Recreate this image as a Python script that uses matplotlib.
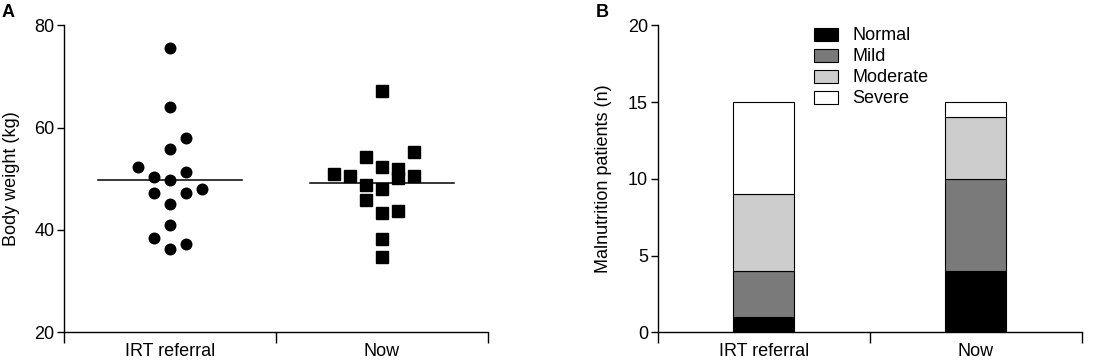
import numpy as np
import matplotlib.pyplot as plt
from matplotlib.patches import Patch

plt.rcParams['font.family'] = ['Liberation Sans', 'DejaVu Sans']
plt.rcParams['font.size'] = 13

groups = ['IRT referral', 'Now']

# panel A: body weight (kg), with jitter column index for each point
irt_w = [75.6, 64.0, 57.9, 55.8, 52.3, 51.4, 50.4, 49.7, 47.3, 47.3, 47.95, 45.1, 40.9, 38.4, 37.2, 36.2]
irt_col = [0, 0, 1, 0, -2, 1, -1, 0, -1, 1, 2, 0, 0, -1, 1, 0]
now_w = [67.1, 55.2, 54.2, 52.25, 52.0, 50.2, 51.0, 50.5, 50.6, 48.7, 48.1, 45.8, 43.65, 43.26, 38.2, 34.8]
now_col = [0, 2, -1, 0, 1, 1, -3, -2, 2, -1, 0, -1, 1, 0, 0, 0]

# panel B: malnutrition grades (n)
grades = ['Normal', 'Mild', 'Moderate', 'Severe']
counts = {'Normal': [1, 4], 'Mild': [3, 6], 'Moderate': [5, 4], 'Severe': [6, 1]}
colors = ['#000000', '#7a7a7a', '#cdcdcd', '#ffffff']

fig = plt.figure(figsize=(11.19, 3.6), dpi=100)
axA = fig.add_axes([0.0572, 0.0769, 0.3788, 0.8528])
axB = fig.add_axes([0.5877, 0.0769, 0.3790, 0.8528])

step = 0.076
for i, (w, c, m, ms) in enumerate([(irt_w, irt_col, 'o', 7.6), (now_w, now_col, 's', 8.0)]):
    x = i + np.array(c) * step
    axA.plot(x, w, linestyle='none', marker=m, color='black', markersize=ms)
    mean = np.mean(w)
    axA.plot([i - 0.34, i + 0.34], [mean, mean], color='black', lw=1.1)

axA.set_ylim(20, 80)
axA.set_yticks([20, 40, 60, 80])
axA.set_ylabel('Body weight (kg)', labelpad=10)

bottom = np.zeros(2)
for g, col in zip(grades, colors):
    axB.bar([0, 1], counts[g], bottom=bottom, width=0.29, color=col,
            edgecolor='black', linewidth=0.8, label=g)
    bottom += np.array(counts[g])
axB.set_ylim(0, 20)
axB.set_yticks([0, 5, 10, 15, 20])
axB.set_ylabel('Malnutrition patients (n)', labelpad=11.5)

handles = [Patch(facecolor=c, edgecolor='black', linewidth=0.8) for c in colors]
axB.legend(handles, grades, loc='upper left', bbox_to_anchor=(0.368, 0.993),
           frameon=False, borderpad=0, borderaxespad=0, handlelength=1.35,
           handleheight=0.72, handletextpad=0.8, labelspacing=0.22, fontsize=13)

for ax in (axA, axB):
    ax.spines['top'].set_visible(False)
    ax.spines['right'].set_visible(False)
    ax.spines['left'].set_linewidth(1)
    ax.spines['bottom'].set_linewidth(1)
    ax.set_xlim(-0.5, 1.5)
    ax.set_xticks([0, 1])
    ax.set_xticklabels(groups)
    ax.set_xticks([-0.5, 0.5, 1.5], minor=True)
    ax.tick_params(axis='x', which='major', length=0, pad=8)
    ax.tick_params(axis='x', which='minor', length=8, width=1)
    ax.tick_params(axis='y', length=5, width=1, pad=2)

fig.text(0.001, 0.99, 'A', fontsize=13, fontweight='bold', va='top')
fig.text(0.532, 0.99, 'B', fontsize=13, fontweight='bold', va='top')

fig.savefig('out.png', dpi=100)
